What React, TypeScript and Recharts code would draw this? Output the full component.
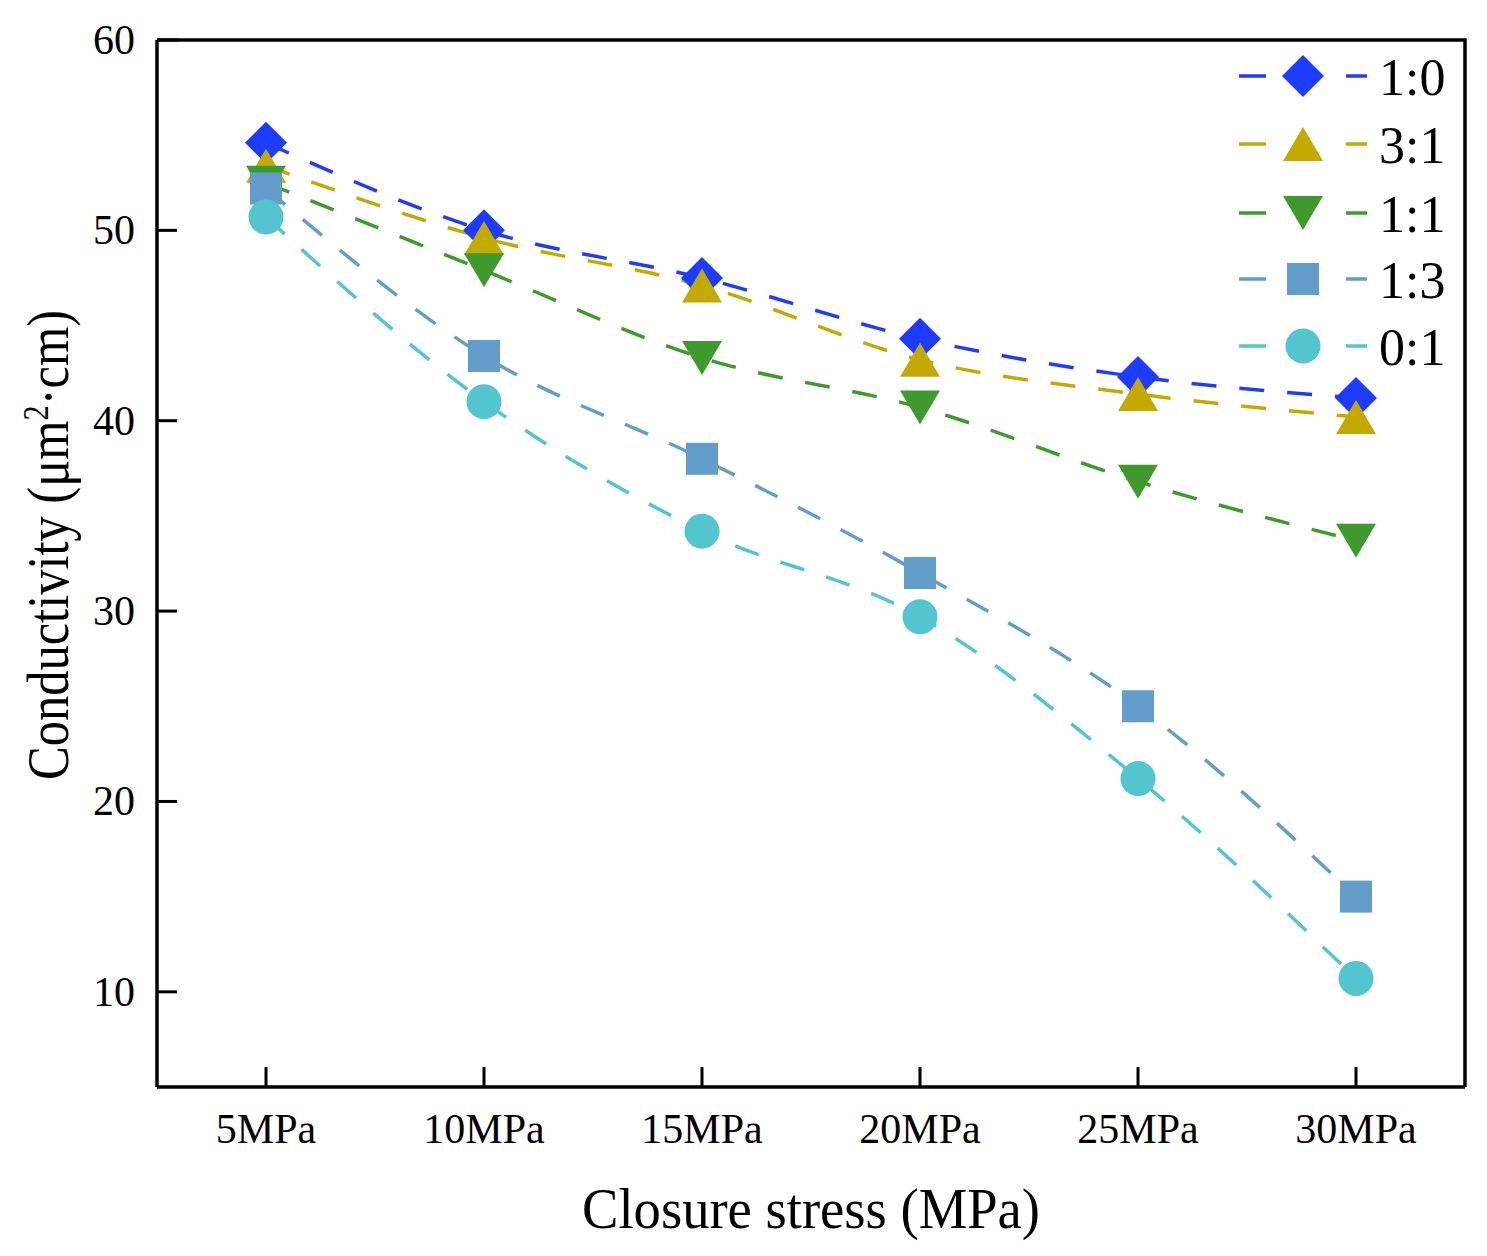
import React from 'react';
import { LineChart, Line, XAxis, YAxis, Customized } from 'recharts';

const categories = ['5MPa', '10MPa', '15MPa', '20MPa', '25MPa', '30MPa'];
const s10 = [54.6, 50.0, 47.5, 44.3, 42.3, 41.2];
const s31 = [53.4, 49.6, 47.1, 43.2, 41.4, 40.2];
const s11 = [52.5, 47.9, 43.3, 40.7, 36.8, 33.7];
const s13 = [52.2, 43.4, 38.0, 32.0, 25.0, 15.0];
const s01 = [50.7, 41.0, 34.2, 29.7, 21.2, 10.7];
const yTicks = [10, 20, 30, 40, 50, 60];

const seriesNames = ['1:0', '3:1', '1:1', '1:3', '0:1'];
const seriesValues = [s10, s31, s11, s13, s01];
const seriesColors = ['#1E3CFF', '#C4AA00', '#3F9A2E', '#629EC9', '#52C5CF'];
const seriesShapes = ['diamond', 'up', 'down', 'square', 'circle'];

const data = categories.map((c, i) => {
  const row: any = { cat: c };
  seriesNames.forEach((n, k) => {
    row['s' + k] = seriesValues[k][i];
  });
  return row;
});

const FONT = '"Liberation Serif", "Times New Roman", serif';

function Marker({ shape, cx, cy, color }: { shape: string; cx: number; cy: number; color: string }) {
  if (cx == null || cy == null) return null;
  switch (shape) {
    case 'diamond':
      return <polygon points={`${cx},${cy - 21} ${cx + 21},${cy} ${cx},${cy + 21} ${cx - 21},${cy}`} fill={color} />;
    case 'up':
      return <polygon points={`${cx},${cy - 17} ${cx + 20},${cy + 17} ${cx - 20},${cy + 17}`} fill={color} />;
    case 'down':
      return <polygon points={`${cx - 20},${cy - 17} ${cx + 20},${cy - 17} ${cx},${cy + 17}`} fill={color} />;
    case 'square':
      return <rect x={cx - 16} y={cy - 16} width={32} height={32} fill={color} />;
    default:
      return <circle cx={cx} cy={cy} r={17.5} fill={color} />;
  }
}

const YTick = (props: any) => {
  const { x, y, payload } = props;
  return (
    <g>
      <line x1={149} x2={169} y1={y} y2={y} stroke="#000" strokeWidth={3} />
      <text x={127} y={y + 14} textAnchor="end" fontSize={42} fontFamily={FONT} fill="#000">
        {payload.value}
      </text>
    </g>
  );
};

const XTick = (props: any) => {
  const { x, payload } = props;
  return (
    <g>
      <line x1={x} x2={x} y1={1079} y2={1059} stroke="#000" strokeWidth={3} />
      <text x={x} y={1135} textAnchor="middle" fontSize={42} fontFamily={FONT} fill="#000">
        {payload.value}
      </text>
    </g>
  );
};

const Overlay = () => {
  const rowY = [68, 136, 205, 271, 338];
  return (
    <g>
      <polyline points="149,32 1457,32 1457,1079" fill="none" stroke="#000" strokeWidth={3.5} />
      <text x={803} y={1220} textAnchor="middle" fontSize={57} fontFamily={FONT} fill="#000" textLength={458} lengthAdjust="spacingAndGlyphs">
        Closure stress (MPa)
      </text>
      <text transform="translate(60,537) rotate(-90)" textAnchor="middle" fontSize={60} fontFamily={FONT} fill="#000" textLength={470} lengthAdjust="spacingAndGlyphs">
        Conductivity (μm<tspan baselineShift="super" fontSize={36}>2</tspan>·cm)
      </text>
      {seriesNames.map((n, k) => {
        const cy = rowY[k];
        return (
          <g key={n}>
            <line x1={1231} x2={1258} y1={cy} y2={cy} stroke={seriesColors[k]} strokeWidth={3.5} />
            <Marker shape={seriesShapes[k]} cx={1295} cy={cy} color={seriesColors[k]} />
            <line x1={1338} x2={1359} y1={cy} y2={cy} stroke={seriesColors[k]} strokeWidth={3.5} />
            <text x={1371} y={cy + 19} fontSize={52} fontFamily={FONT} fill="#000">
              {n}
            </text>
          </g>
        );
      })}
    </g>
  );
};

export default function App() {
  return (
    <LineChart width={1471} height={1240} data={data} margin={{ top: 32, right: 14, bottom: 0, left: 0 }}>
      <XAxis
        dataKey="cat"
        height={161}
        padding={{ left: 109, right: 109 }}
        tick={<XTick />}
        axisLine={{ stroke: '#000', strokeWidth: 3.5 }}
        tickLine={false}
        interval={0}
      />
      <YAxis
        type="number"
        domain={[5, 60]}
        ticks={yTicks}
        width={149}
        tick={<YTick />}
        tickLine={false}
        axisLine={{ stroke: '#000', strokeWidth: 3.5 }}
        allowDataOverflow
      />
      {seriesNames.map((n, k) => (
        <Line
          key={n}
          name={n}
          dataKey={'s' + k}
          type="monotone"
          stroke={seriesColors[k]}
          strokeWidth={3.5}
          strokeDasharray="25 23"
          isAnimationActive={false}
          dot={(p: any) => <Marker key={'d' + k + '-' + p.index} shape={seriesShapes[k]} cx={p.cx} cy={p.cy} color={seriesColors[k]} />}
          activeDot={false}
        />
      ))}
      <Customized component={Overlay} />
    </LineChart>
  );
}
